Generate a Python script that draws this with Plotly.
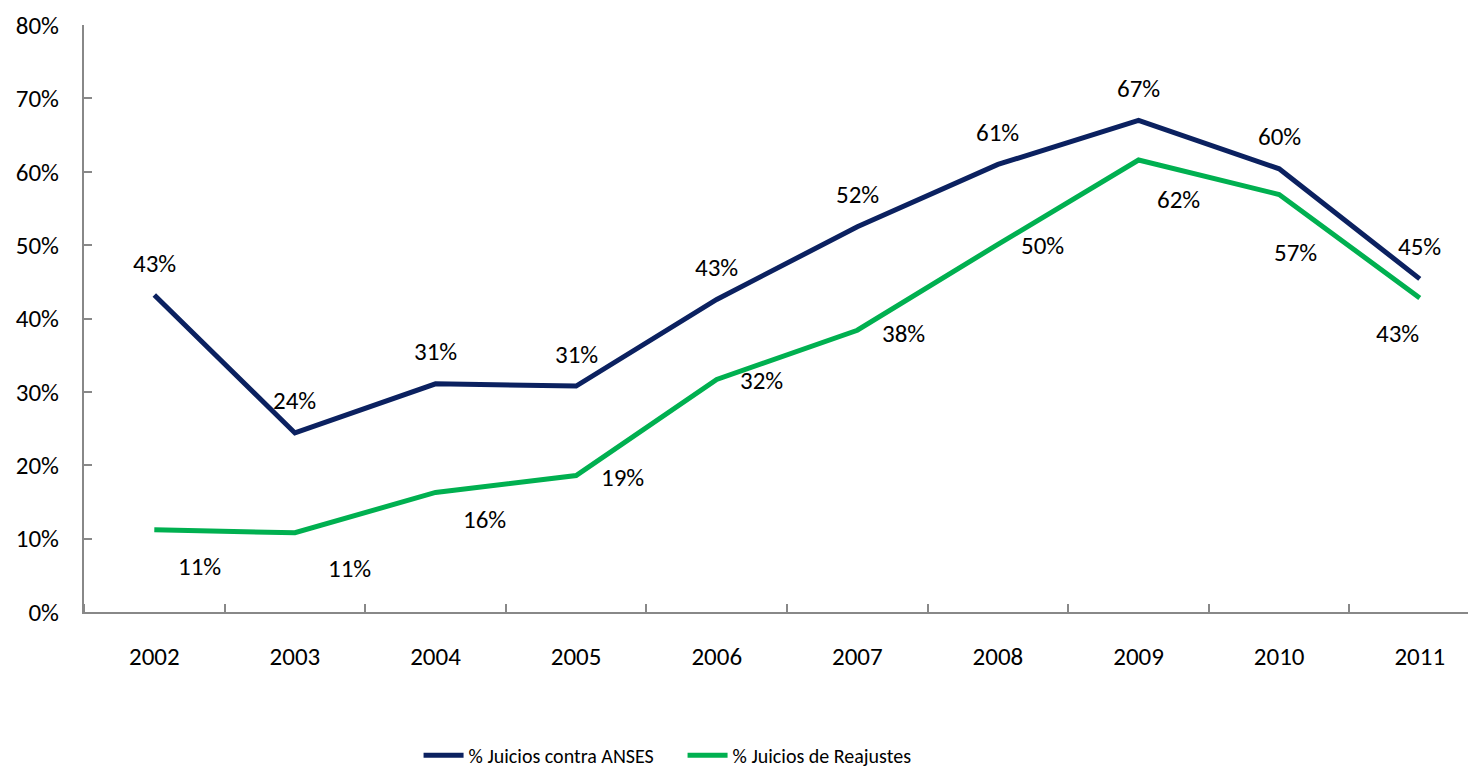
import plotly.graph_objects as go

years = ["2002", "2003", "2004", "2005", "2006", "2007", "2008", "2009", "2010", "2011"]
anses = [0.432, 0.244, 0.311, 0.308, 0.426, 0.525, 0.610, 0.670, 0.604, 0.454]
reajustes = [0.112, 0.108, 0.163, 0.186, 0.317, 0.384, 0.501, 0.616, 0.569, 0.428]
series_names = ["% Juicios contra ANSES", "% Juicios de Reajustes"]
y_ticks = [0, 0.1, 0.2, 0.3, 0.4, 0.5, 0.6, 0.7, 0.8]

# label offsets (pixels) for the green series labels, as placed in the original
reaj_dx = [45, 55, 49, 46, 45, 46, 45, 40, 16, -22]
reaj_dy = [37, 36, 27, 2, 1, 3, 1, 39, 58, 36]

FONT = "Carlito, Calibri, Lato, sans-serif"
FS = 25
NAVY = "#0b2160"
GREEN = "#00b050"

x = list(range(len(years)))

fig = go.Figure()
fig.add_trace(go.Scatter(x=x, y=anses, mode="lines", name=series_names[0],
                         line=dict(color=NAVY, width=5)))
fig.add_trace(go.Scatter(x=x, y=reajustes, mode="lines", name=series_names[1],
                         line=dict(color=GREEN, width=5)))

annotations = []
for i, v in enumerate(anses):
    annotations.append(dict(x=x[i], y=v, xref="x", yref="y", text=f"{round(v*100):.0f}%",
                            showarrow=False, yshift=32, xanchor="center", yanchor="middle",
                            font=dict(family=FONT, size=FS, color="#000")))
for i, v in enumerate(reajustes):
    annotations.append(dict(x=x[i], y=v, xref="x", yref="y", text=f"{round(v*100):.0f}%",
                            showarrow=False, xshift=reaj_dx[i], yshift=-reaj_dy[i],
                            xanchor="center", yanchor="middle",
                            font=dict(family=FONT, size=FS, color="#000")))

# the page body has an 8px default margin, so the figure is sized/offset to fit the window
fig.update_layout(
    width=1468, height=759,
    margin=dict(l=76, r=0, t=17, b=155, autoexpand=False),
    paper_bgcolor="white", plot_bgcolor="white",
    font=dict(family=FONT, size=FS, color="#000"),
    showlegend=True,
    legend=dict(orientation="h", x=0.430, xanchor="center", y=-0.244, yanchor="middle",
                font=dict(family=FONT, size=20, color="#000"),
                itemwidth=40, tracegroupgap=0, entrywidth=209, entrywidthmode="pixels"),
    annotations=annotations,
)
fig.update_xaxes(
    range=[-0.5, 9.4], tickvals=x, ticktext=years, ticks="",
    showline=True, linecolor="#888888", linewidth=2, showgrid=False, zeroline=False,
    ticklabelstandoff=21, automargin=False,
    minor=dict(tickmode="linear", tick0=0.5, dtick=1, ticks="inside", ticklen=8,
               tickcolor="#888888", tickwidth=2, showgrid=False),
)
fig.update_yaxes(
    range=[0, 0.8], tickvals=y_ticks, tickformat=".0%", ticks="inside", ticklen=8,
    tickcolor="#888888", tickwidth=2,
    showline=True, linecolor="#888888", linewidth=2, showgrid=False, zeroline=False,
    ticklabelstandoff=18, automargin=False,
)

fig.write_html("out.html")
